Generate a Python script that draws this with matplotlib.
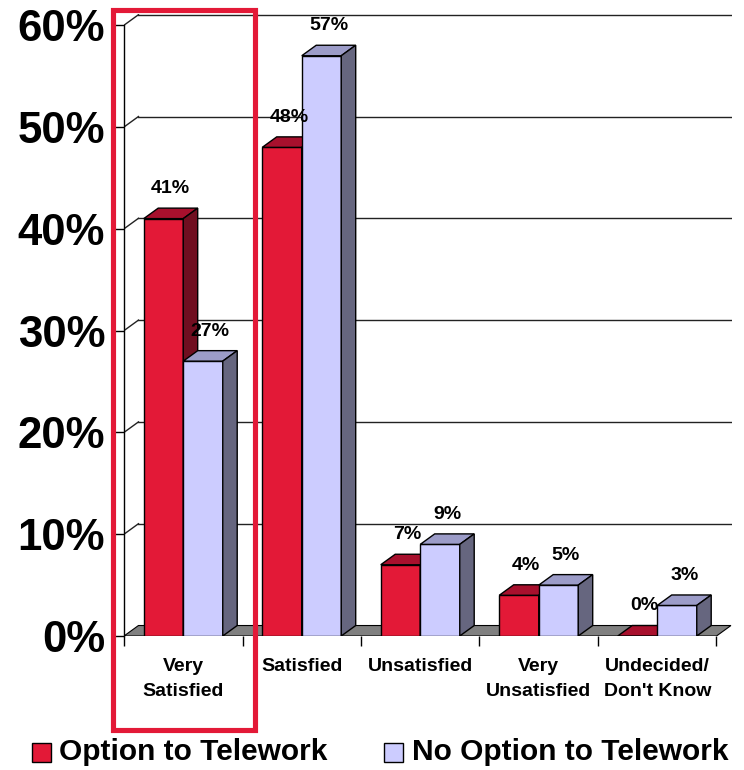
import matplotlib
matplotlib.use("Agg")
import matplotlib.pyplot as plt
from matplotlib.patches import Polygon, Rectangle
import numpy as np

plt.rcParams['font.family'] = ['Liberation Sans', 'DejaVu Sans']

categories = ["Very\nSatisfied", "Satisfied", "Unsatisfied", "Very\nUnsatisfied", "Undecided/\nDon't Know"]
option_vals = [41, 48, 7, 4, 0]
no_option_vals = [27, 57, 9, 5, 3]
series_names = ["Option to Telework", "No Option to Telework"]
y_ticks = [0, 10, 20, 30, 40, 50, 60]
y_tick_labels = ["0%", "10%", "20%", "30%", "40%", "50%", "60%"]

# styles
red_front, red_top, red_side = "#E31937", "#A8102D", "#700E20"
lav_front, lav_top, lav_side = "#CCCCFF", "#9C9CC8", "#66667F"
floor_col = "#808080"

W, H = 744, 770
fig = plt.figure(figsize=(W / 100, H / 100), dpi=100)

# depth offsets in data units
DX = 0.122
DY = 1.03
x0_px, x_unit = 124, 118.5
y0_px, y_unit = 636, 10.18
xmax = 5 + DX + 0.01
ymax = 61.1
ax = fig.add_axes([x0_px / W, (H - y0_px) / H, xmax * x_unit / W, ymax * y_unit / H])
ax.set_xlim(0, xmax)
ax.set_ylim(0, ymax)
for s in ["top", "right", "bottom"]:
    ax.spines[s].set_visible(False)
ax.spines["left"].set_bounds(0, 60)
ax.spines["left"].set_linewidth(1.0)

# back gridlines and diagonal connectors
for v in y_ticks[1:]:
    ax.plot([DX, 5 + DX], [v + DY, v + DY], color="#222222", lw=1.0, zorder=1)
    ax.plot([0, DX], [v, v + DY], color="#222222", lw=1.0, zorder=1)

# floor
floor = Polygon([[0, 0], [5, 0], [5 + DX, DY], [DX, DY]], closed=True,
                facecolor=floor_col, edgecolor="black", lw=0.8, zorder=2)
ax.add_patch(floor)

bw = 1 / 3.0
x = np.arange(len(categories))


def bar3d(xl, h, front, top, side):
    ax.bar(xl, h, width=bw, align="edge", color=front, edgecolor="black", lw=1.0, zorder=3)
    ax.add_patch(Polygon([[xl, h], [xl + bw, h], [xl + bw + DX, h + DY], [xl + DX, h + DY]],
                         closed=True, facecolor=top, edgecolor="black", lw=1.0, zorder=3))
    ax.add_patch(Polygon([[xl + bw, 0], [xl + bw + DX, DY], [xl + bw + DX, h + DY], [xl + bw, h]],
                         closed=True, facecolor=side, edgecolor="black", lw=1.0, zorder=3))


for i in range(len(categories)):
    xl1 = x[i] + 1 / 6.0
    xl2 = xl1 + bw
    bar3d(xl1, option_vals[i], red_front, red_top, red_side)
    bar3d(xl2, no_option_vals[i], lav_front, lav_top, lav_side)
    for xl, v in ((xl1, option_vals[i]), (xl2, no_option_vals[i])):
        ax.annotate(f"{v}%", (xl + bw / 2 + DX / 2, v + DY), xytext=(0, 8),
                    textcoords="offset points", ha="center", va="bottom",
                    fontsize=14, fontweight="bold", zorder=5, annotation_clip=False)

ax.set_yticks(y_ticks)
ax.set_yticklabels(y_tick_labels, fontsize=31.5, fontweight="bold")
ax.tick_params(axis="y", length=6.5, width=1.0, pad=7)

ax.set_xticks(np.arange(6))
ax.set_xticklabels([""] * 6)
ax.tick_params(axis="x", which="major", length=7.5, width=1.0)
ax.set_xticks(x + 0.5, minor=True)
ax.set_xticklabels(categories, minor=True, fontsize=14, fontweight="bold", linespacing=1.65)
ax.tick_params(axis="x", which="minor", length=0, pad=15.5)

# highlight box
fig.patches.append(Rectangle((112.5 / W, (H - 729.5) / H), 143 / W, 720 / H,
                             transform=fig.transFigure, fill=False,
                             edgecolor=red_front, lw=3.7, zorder=10))

# legend
for sx, tx, col, name in ((32, 59, red_front, series_names[0]), (384, 412, lav_front, series_names[1])):
    fig.patches.append(Rectangle((sx / W, (H - 762) / H), 19 / W, 19 / H,
                                 transform=fig.transFigure, facecolor=col,
                                 edgecolor="black", lw=1.0))
    fig.text(tx / W, (H - 752) / H, name, fontsize=21.5, fontweight="bold",
             ha="left", va="center")

fig.savefig("out.png", dpi=100, facecolor="white")
